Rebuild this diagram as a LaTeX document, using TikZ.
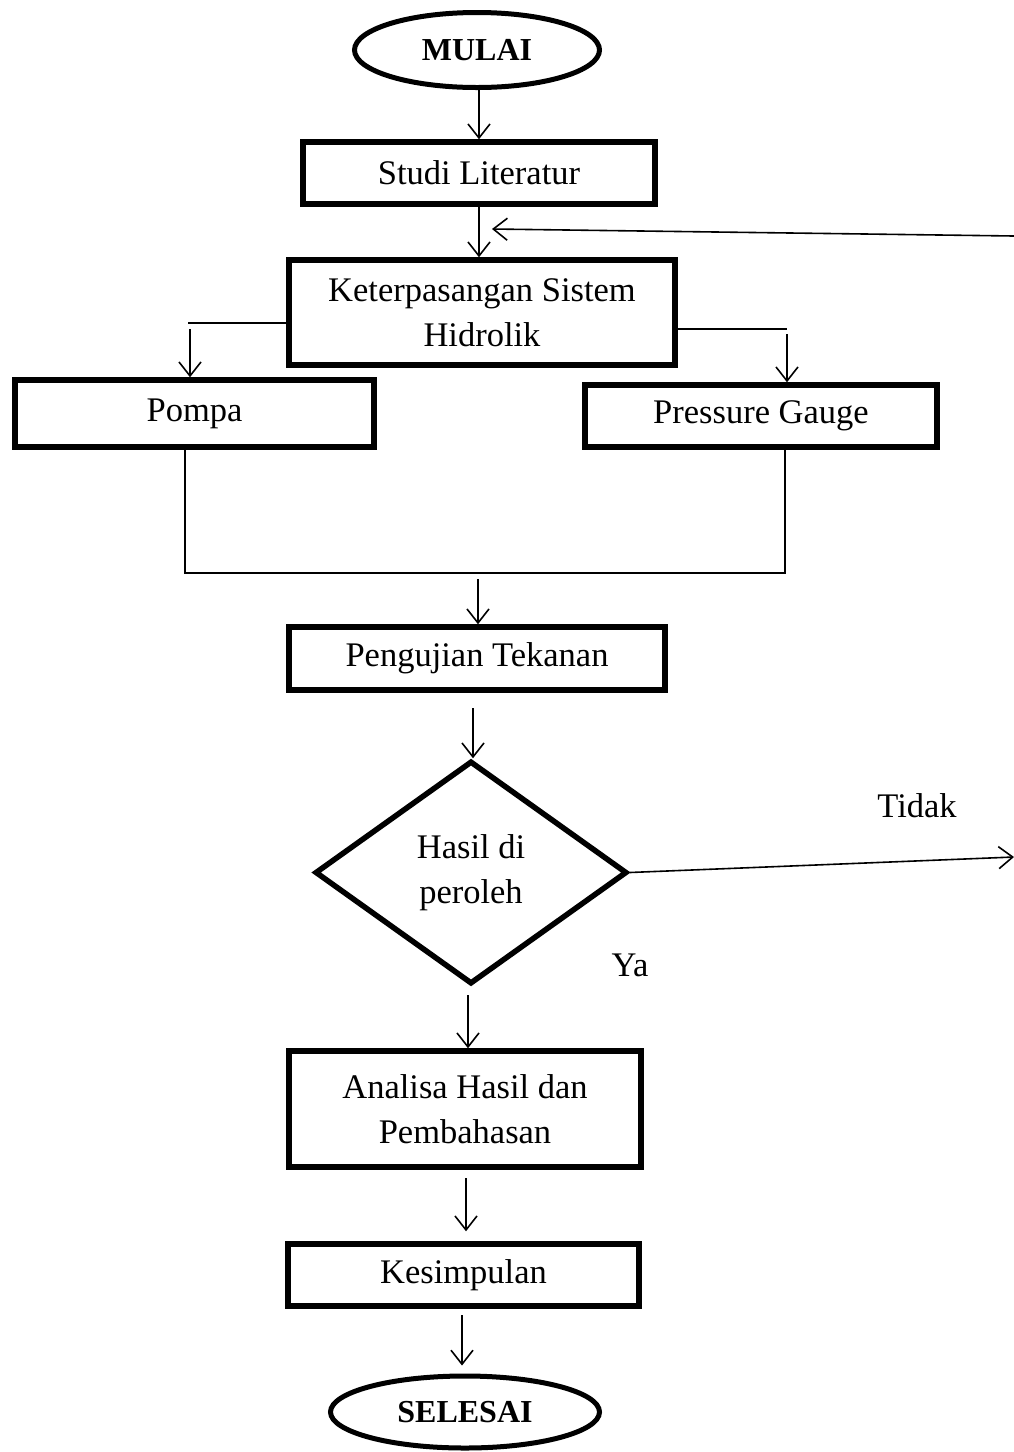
\documentclass[tikz,border=0pt]{standalone}
\usepackage{fontspec}
\setmainfont{Liberation Serif}
\usetikzlibrary{shapes.geometric,arrows.meta}
\begin{document}
\begin{tikzpicture}[x=1pt,y=-1pt,
  txt/.style={font=\fontsize{34.5}{45}\selectfont, align=center},
  proc/.style={draw, line width=5.5pt, rectangle, inner sep=0pt, txt},
  term/.style={draw, ellipse, line width=5pt, inner sep=0pt, font=\fontsize{32}{38}\selectfont\bfseries},
  dec/.style={draw, diamond, line width=5.5pt, inner sep=0pt, txt},
  conn/.style={line width=1.6pt},
  arr/.style={conn, -{Straight Barb[length=14pt,width=22pt,line width=1.6pt]}},
  lbl/.style={font=\fontsize{34.5}{45}\selectfont, inner sep=0pt}
]
\useasboundingbox (0,0) rectangle (1014,1452);

% nodes
\node[term, minimum width=245pt, minimum height=75pt] (mulai) at (477,50) {MULAI};
\node[proc, minimum width=352pt, minimum height=62pt] (studi) at (479,173) {Studi Literatur};
\node[proc, minimum width=386pt, minimum height=105pt] (ket) at (482,312.5) {Keterpasangan Sistem\\Hidrolik};
\node[proc, minimum width=359pt, minimum height=67pt] (pompa) at (194.5,413.5) {Pompa};
\node[proc, minimum width=352pt, minimum height=62pt] (pg) at (761,416) {Pressure Gauge};
\node[proc, minimum width=376pt, minimum height=63pt] (uji) at (477,658.5) {Pengujian Tekanan};
\node[dec, minimum width=312pt, minimum height=223pt] (hasil) at (471,872.5) {Hasil di\\peroleh};
\node[proc, minimum width=352pt, minimum height=116pt] (anal) at (465,1109) {Analisa Hasil dan\\Pembahasan};
\node[proc, minimum width=351pt, minimum height=62pt] (kes) at (463.5,1275) {Kesimpulan};
\node[term, minimum width=269pt, minimum height=72pt] (sel) at (465,1412) {SELESAI};

\node[lbl] (tidak) at (917,806) {Tidak};
\node[lbl] (ya) at (630,965) {Ya};

% helper coordinates
\coordinate (fbr) at (1014,236);
\coordinate (fbl) at (492,229);
\coordinate (kl) at (188,323);
\coordinate (kla) at (190,329);
\coordinate (kr) at (787,329);
\coordinate (kra) at (787,334);
\coordinate (jl) at (185,573);
\coordinate (jr) at (785,573);
\coordinate (ja) at (478,579);
\coordinate (ua) at (473,708);
\coordinate (tr) at (1014,857);
\coordinate (ha) at (468,995);
\coordinate (aa) at (466,1178);
\coordinate (ka) at (462,1315);

% connectors
\draw[arr] (mulai.south -| studi.north) -- (studi.north);
\draw[arr] (studi.south) -- (studi.south |- ket.north);
\draw[arr] (fbr) -- (fbl);
\draw[conn] (ket.west |- kl) -- (kl);
\draw[arr] (kla) -- (kla |- pompa.north);
\draw[conn] (ket.east |- kr) -- (kr);
\draw[arr] (kra) -- (kra |- pg.north);
\draw[conn] (pompa.south -| jl) -- (jl) -- (jr) -- (pg.south -| jr);
\draw[arr] (ja) -- (ja |- uji.north);
\draw[arr] (ua) -- (ua |- hasil.north);
\draw[arr] (hasil.east) -- (tr);
\draw[arr] (ha) -- (ha |- anal.north);
\draw[arr, shorten >=10pt] (aa) -- (aa |- kes.north);
\draw[arr, shorten >=8pt] (ka) -- (ka |- sel.north);
\end{tikzpicture}
\end{document}
